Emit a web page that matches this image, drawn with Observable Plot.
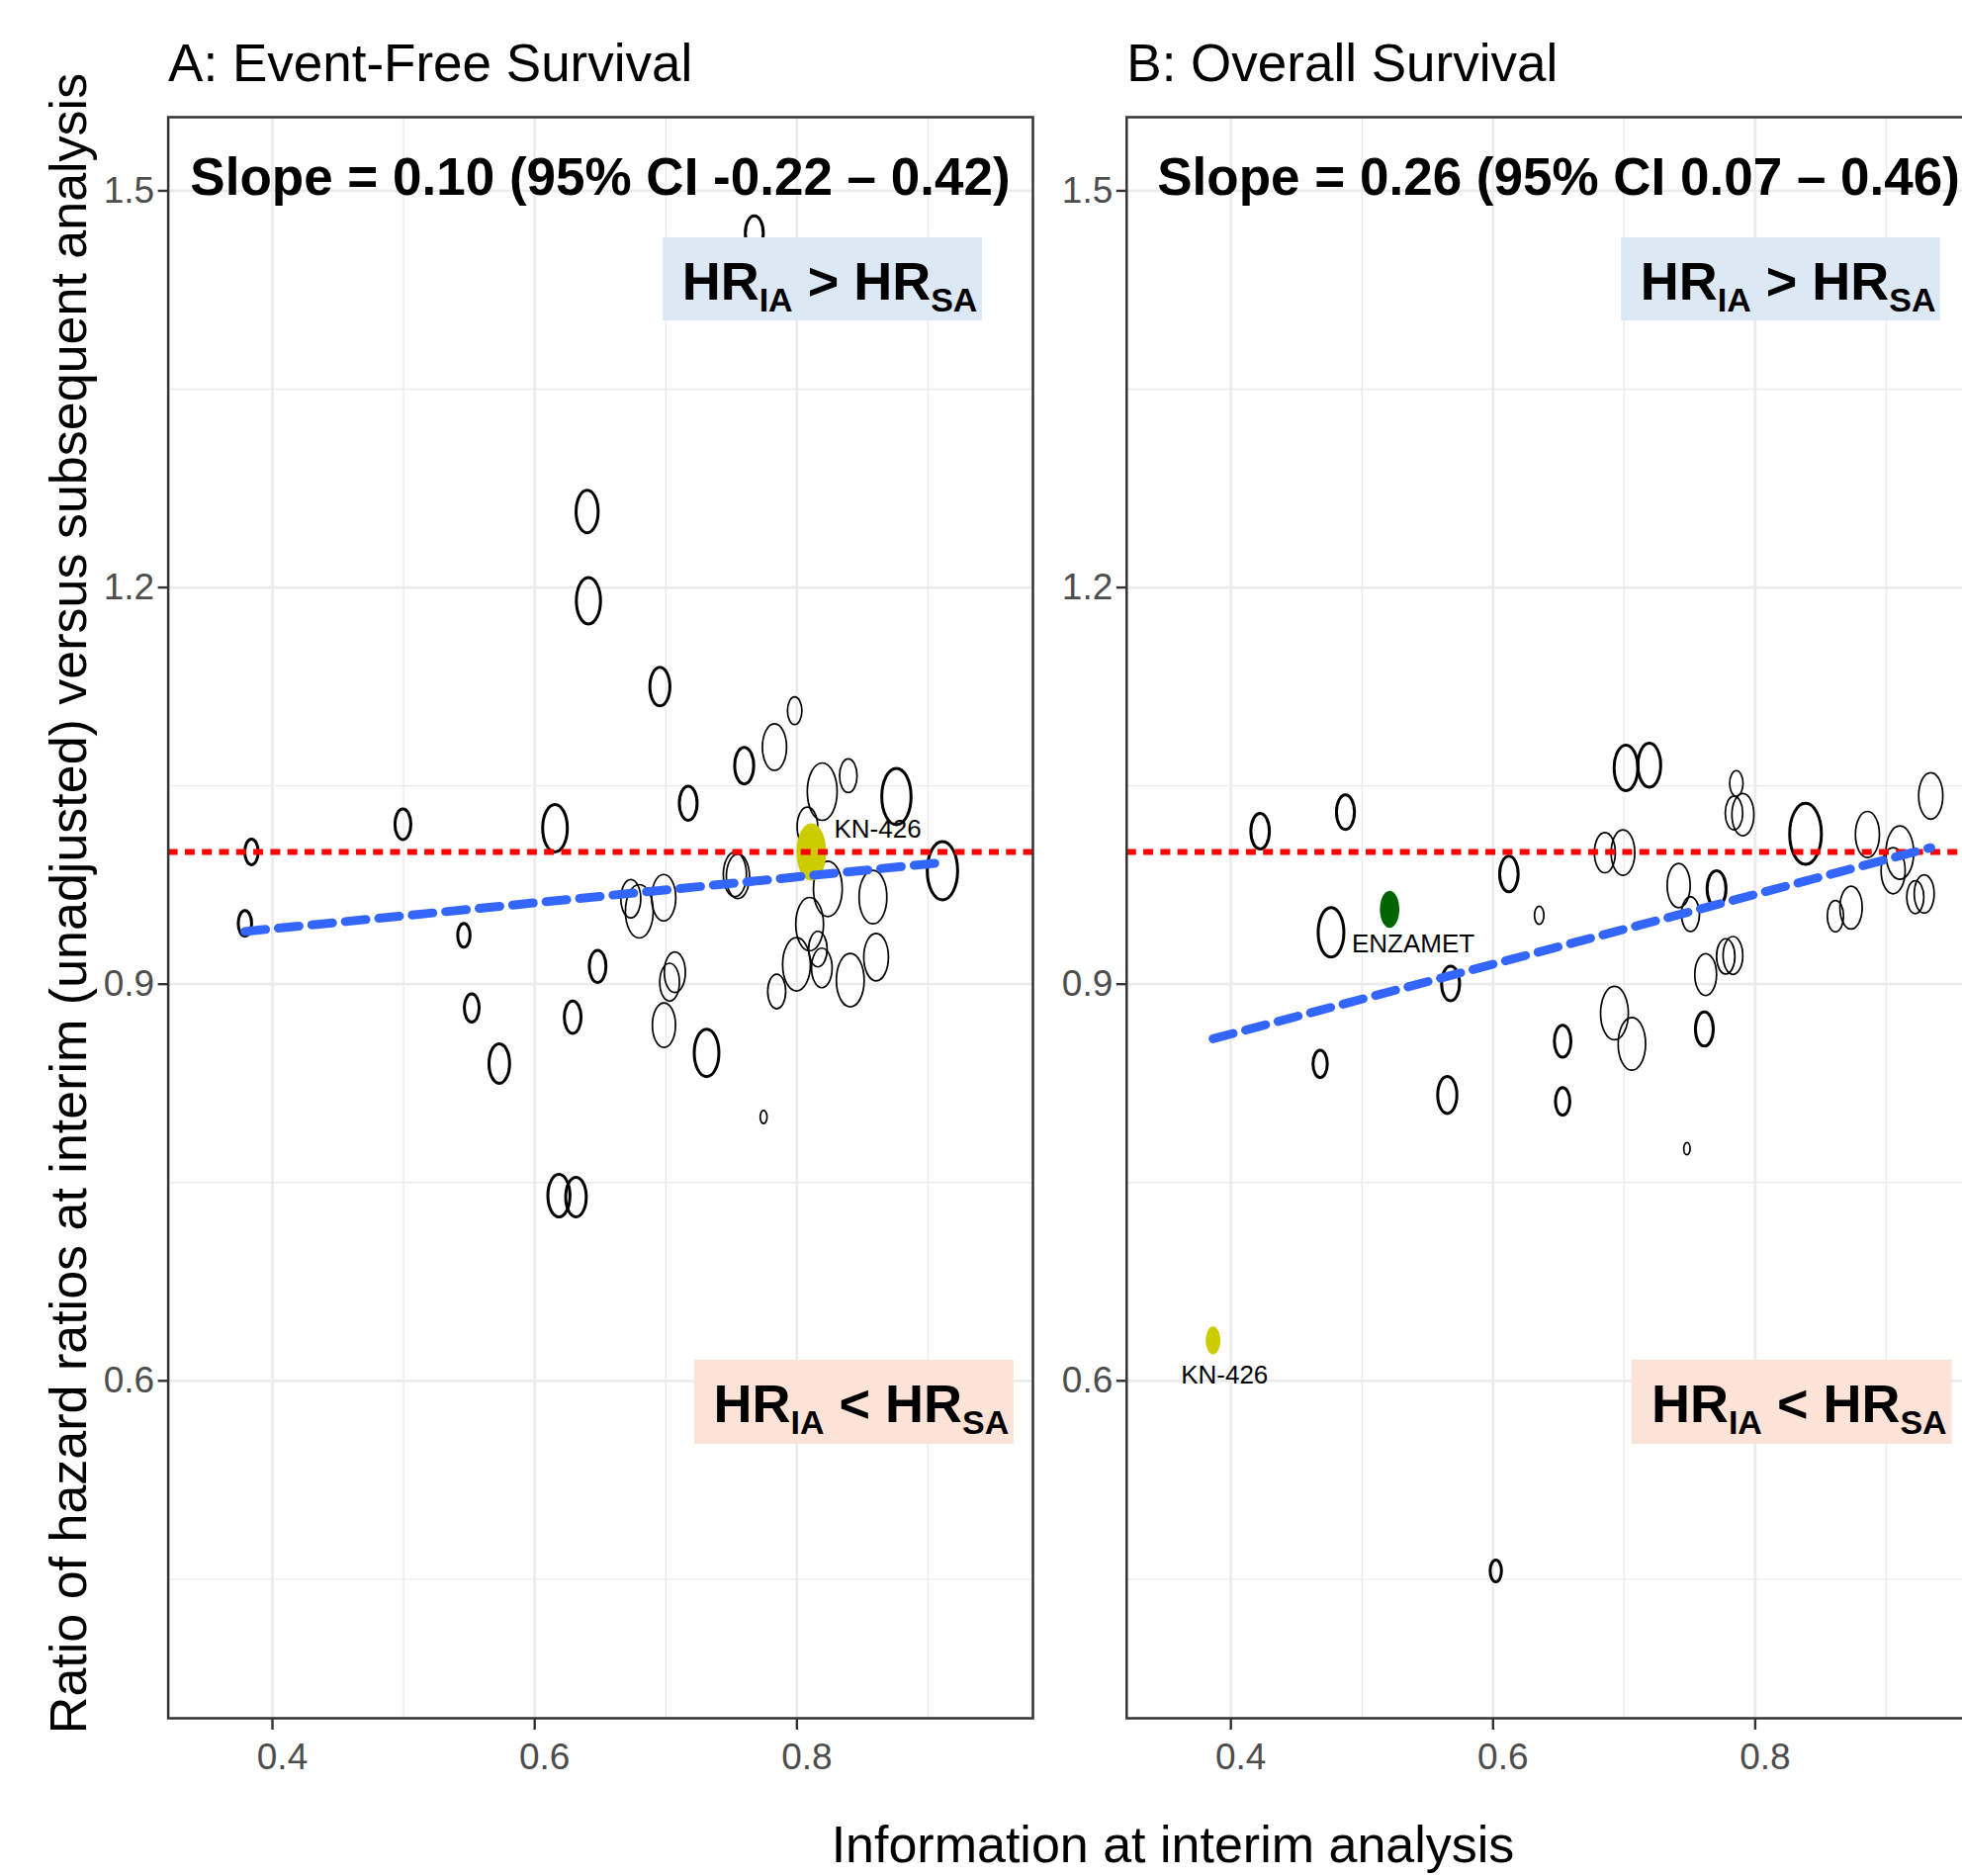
<!DOCTYPE html>
<html>
<head>
<meta charset="utf-8">
<script src="https://cdn.jsdelivr.net/npm/d3@7"></script>
<script src="https://cdn.jsdelivr.net/npm/@observablehq/plot@0.6"></script>
<style>
  html, body { margin: 0; padding: 0; background: white; overflow: hidden; }
  #wrap { position: relative; width: 1984px; height: 1897px; overflow: hidden; background: white;
          font-family: "Liberation Sans", Arial, sans-serif; }
  .panel { position: absolute; top: 0; }
  #xlab { position: absolute; left: 0; width: 2372px; top: 1839px; text-align: center;
          font-size: 52px; line-height: 52px; color: black; }
</style>
</head>
<body>
<div id="wrap">
  <div class="panel" id="pA" style="left:0px"></div>
  <div class="panel" id="pB" style="left:1050px"></div>
  <div id="xlab">Information at interim analysis</div>
</div>
<script>
// ---------- Panel A: Event-Free Survival ----------
const efsInfo = [0.384, 0.379, 0.4995, 0.546, 0.552, 0.573, 0.6155, 0.640, 0.641, 0.6185, 0.6315, 0.629, 0.648,
  0.6733, 0.6798, 0.6984, 0.6955, 0.6986, 0.7069, 0.7029, 0.7171, 0.7311, 0.7527, 0.7550, 0.7598, 0.7675,
  0.7983, 0.7746, 0.7829, 0.7846, 0.7997, 0.808, 0.8097, 0.811, 0.816, 0.819, 0.8193, 0.8236, 0.8392, 0.8407,
  0.858, 0.8604, 0.8759, 0.911];
const efsRatio = [1.000, 0.946, 1.021, 0.937, 0.882, 0.840, 1.018, 1.2575, 1.190, 0.740, 0.739, 0.875, 0.9135,
  0.9646, 0.9551, 0.9654, 1.125, 0.869, 0.909, 0.9015, 1.0369, 0.848, 0.983, 0.9815, 1.0653, 1.468,
  1.1068, 0.7995, 1.0793, 0.8945, 0.915, 1.019, 0.9454, 1.000, 0.9265, 0.9123, 1.0456, 0.9721, 1.0576, 0.903,
  0.9658, 0.9205, 1.0419, 0.9858];
const efsEvents = [169, 169, 240, 144, 206, 400, 576, 462, 552, 462, 400, 267, 264,
  374, 729, 552, 380, 506, 420, 367, 298, 576, 506, 506, 342, 306,
  196, 44, 552, 306, 729, 400, 729, 841, 324, 400, 841, 784, 289, 729,
  729, 576, 812, 870];
const efsCohort = [2, 2, 2, 2, 2, 2, 2, 2, 2, 2, 2, 2, 2,
  1, 1, 1, 2, 1, 1, 1, 2, 2, 1, 1, 2, 2,
  1, 1, 1, 1, 1, 1, 1, 1, 1, 1, 1, 1, 1, 1,
  1, 1, 2, 2];
const efsTrial = efsInfo.map((_, i) => i === 33 ? "KN-426" : "");
const efsSlope = 0.098, efsIntercept = 0.9027;

// ---------- Panel B: Overall Survival ----------
const osInfo = [0.3864, 0.4223, 0.4681, 0.4764, 0.4874, 0.5211, 0.5651, 0.5676, 0.6021, 0.6121,
  0.6352, 0.6531, 0.6531, 0.6853, 0.6991, 0.6926, 0.7059, 0.7014, 0.7192, 0.7416,
  0.7479, 0.7506, 0.7612, 0.7622, 0.7705, 0.7775, 0.7830, 0.7856, 0.7838, 0.7906,
  0.8384, 0.8612, 0.8731, 0.8856, 0.9052, 0.9103, 0.9221, 0.9289, 0.9339];
const osRatio = [0.6305, 1.0157, 0.8397, 0.9392, 1.0301, 0.9566, 0.8162, 0.9005, 0.4562, 0.9833,
  0.9521, 0.8569, 0.8113, 0.9995, 0.9995, 0.8781, 0.8549, 1.0636, 1.0656, 0.9746,
  0.7756, 0.9529, 0.8661, 0.9073, 0.9721, 0.921, 0.9217, 1.0518, 1.0294, 1.0282,
  1.0137, 0.9514, 0.9579, 1.0132, 0.9858, 0.9995, 0.9658, 0.9683, 1.0424];
const osEvents = [200, 324, 192, 625, 306, 355, 348, 306, 121, 324,
  84, 261, 196, 414, 529, 729, 710, 529, 491, 500,
  38, 306, 301, 447, 337, 319, 367, 169, 289, 456,
  952, 251, 469, 545, 545, 729, 277, 374, 552];
const osCohort = [1, 2, 2, 2, 2, 1, 2, 2, 2, 2,
  1, 2, 2, 1, 1, 1, 1, 2, 2, 1,
  1, 1, 2, 1, 2, 1, 1, 1, 1, 1,
  2, 1, 1, 1, 1, 1, 1, 1, 1];
const osTrial = osInfo.map((_, i) => i === 0 ? "KN-426" : i === 5 ? "ENZAMET" : "");
const osSlope = 0.264, osIntercept = 0.7567;

// ---------- Text & axes ----------
const titles = ["A: Event-Free Survival", "B: Overall Survival"];
const slopeTexts = ["Slope = 0.10 (95% CI -0.22 \u2013 0.42)", "Slope = 0.26 (95% CI 0.07 \u2013 0.46)"];
const yTitle = "Ratio of hazard ratios at interim (unadjusted) versus subsequent analysis";
const upperLabel = "HR_{IA} > HR_{SA}";
const lowerLabel = "HR_{IA} < HR_{SA}";
const xMajor = [0.4, 0.6, 0.8], xMinor = [0.5, 0.7, 0.9];
const yMajor = [0.6, 0.9, 1.2, 1.5], yMinor = [0.45, 0.75, 1.05, 1.35];
const trialNames = ["KN-426", "ENZAMET"];
const trialColors = ["#cccc00", "#006400"];

// annotation boxes (data units)
const upperBox = {x1: 0.698, x2: 0.9415, y1: 1.4016, y2: 1.4645};
const lowerBoxes = [{x1: 0.722, x2: 0.9656, y1: 0.552, y2: 0.6156}, {x1: 0.706, x2: 0.9504, y1: 0.552, y2: 0.6156}];

// ellipse symbol (points are drawn as tall ellipses)
const ellipse = {
  draw(ctx, size) {
    const ry = Math.sqrt(size / Math.PI), rx = ry * 0.52, k = 0.5523;
    ctx.moveTo(rx, 0);
    ctx.bezierCurveTo(rx, k * ry, k * rx, ry, 0, ry);
    ctx.bezierCurveTo(-k * rx, ry, -rx, k * ry, -rx, 0);
    ctx.bezierCurveTo(-rx, -k * ry, -k * rx, -ry, 0, -ry);
    ctx.bezierCurveTo(k * rx, -ry, rx, -k * ry, rx, 0);
    ctx.closePath();
  }
};

const labelOffsets = {
  "A:KN-426": {dx: 23, dy: -22.6, textAnchor: "start"},
  "B:KN-426": {dx: 11.6, dy: 34.7, textAnchor: "middle"},
  "B:ENZAMET": {dx: -38.3, dy: 35.4, textAnchor: "start"}
};

function subscripts(svg) {
  svg.querySelectorAll("text").forEach(t => {
    const s = t.textContent;
    if (!s.includes("_{")) return;
    while (t.firstChild) t.removeChild(t.firstChild);
    const parts = s.split(/_\{([^}]*)\}/);
    let down = false;
    parts.forEach((p, i) => {
      if (!p) return;
      const ts = document.createElementNS("http://www.w3.org/2000/svg", "tspan");
      ts.textContent = p;
      if (i % 2) { ts.setAttribute("font-size", "34"); ts.setAttribute("dy", "12"); down = true; }
      else if (down) { ts.setAttribute("dy", "-12"); down = false; }
      t.appendChild(ts);
    });
  });
}

function panel(key, info, ratio, events, cohort, trial, slope, intercept, idx, opts) {
  const rows = info.map((x, i) => ({info: x, ratio: ratio[i], events: events[i], cohort: cohort[i], trial: trial[i]}));
  const fit = d3.extent(info).map(x => ({info: x, ratio: intercept + slope * x}));
  const named = rows.filter(d => d.trial);
  const lowerBox = lowerBoxes[idx];
  const marks = [
    Plot.gridX({ticks: xMinor, stroke: "#ebebeb", strokeOpacity: 1, strokeWidth: 1.4}),
    Plot.gridY({ticks: yMinor, stroke: "#ebebeb", strokeOpacity: 1, strokeWidth: 1.4}),
    Plot.gridX({ticks: xMajor, stroke: "#ebebeb", strokeOpacity: 1, strokeWidth: 2.7}),
    Plot.gridY({ticks: yMajor, stroke: "#ebebeb", strokeOpacity: 1, strokeWidth: 2.7}),
    Plot.dot(rows.filter(d => !d.trial), {x: "info", y: "ratio", r: "events", symbol: ellipse,
      stroke: "black", fill: "none", strokeWidth: d => d.cohort === 2 ? 3 : 1.7}),
    Plot.dot(named, {x: "info", y: "ratio", r: "events", symbol: ellipse, fill: "trial", stroke: "none"}),
    Plot.ruleY([1], {stroke: "#ff0000", strokeWidth: 6, strokeDasharray: "10,7.3"}),
    Plot.line(fit, {x: "info", y: "ratio", stroke: "#3366ff", strokeWidth: 9, strokeDasharray: "21,13"}),
    ...named.map(d => Plot.text([d], {x: "info", y: "ratio", text: "trial", fontSize: 26, fill: "black",
      ...labelOffsets[key + ":" + d.trial]})),
    Plot.rect([upperBox], {x1: "x1", x2: "x2", y1: "y1", y2: "y2", fill: "#dce9f5"}),
    Plot.rect([lowerBox], {x1: "x1", x2: "x2", y1: "y1", y2: "y2", fill: "#fce3d7"}),
    Plot.text([upperLabel], {x: (upperBox.x1 + upperBox.x2) / 2, y: (upperBox.y1 + upperBox.y2) / 2,
      text: d => d, fontSize: 54, fontWeight: "bold", fill: "black", dy: 3, dx: 7}),
    Plot.text([lowerLabel], {x: (lowerBox.x1 + lowerBox.x2) / 2, y: (lowerBox.y1 + lowerBox.y2) / 2,
      text: d => d, fontSize: 54, fontWeight: "bold", fill: "black", dy: 3, dx: 7}),
    Plot.text([slopeTexts[idx]], {x: 0.65, y: 1.51, text: d => d, fontSize: 53, fontWeight: "bold", fill: "black"}),
    Plot.frame({stroke: "#333333", strokeWidth: 2.5}),
    Plot.axisX({ticks: xMajor, tickFormat: d3.format(".1f"), tickSize: 12, tickPadding: 13,
      fill: "#4d4d4d", stroke: "#333333", strokeWidth: 2.4, fontSize: 37, label: null}),
    Plot.axisY({ticks: yMajor, tickFormat: d3.format(".1f"), tickSize: 10, tickPadding: 4,
      fill: "#4d4d4d", stroke: "#333333", strokeWidth: 2.4, fontSize: 37, label: null}),
    Plot.text([titles[idx]], {frameAnchor: "top-left", text: d => d, textAnchor: "start", lineAnchor: "middle",
      fontSize: 53, fill: "black", dy: -53.3})
  ];
  if (idx === 0) {
    marks.push(Plot.text([yTitle], {frameAnchor: "left", text: d => d, rotate: -90, textAnchor: "middle",
      lineAnchor: "middle", fontSize: 52, fill: "black", dx: -99.5, dy: -14.5}));
  }
  const svg = Plot.plot({
    width: opts.width, height: 1897,
    marginLeft: opts.marginLeft, marginRight: 6, marginTop: 118, marginBottom: 160,
    x: {domain: [0.3205, 0.98]},
    y: {domain: [0.3448, 1.5557]},
    r: {type: "sqrt", domain: [0, 900], range: [0, 30]},
    color: {domain: trialNames, range: trialColors},
    style: {fontFamily: "'Liberation Sans', Arial, sans-serif", fontSize: "37px", background: "white",
      overflow: "visible", maxWidth: "none"},
    marks
  });
  // ggplot-style x tick labels sit slightly right of their ticks in the reference
  svg.querySelectorAll("g[aria-label='x-axis tick label'] text").forEach(t => t.setAttribute("dx", "10"));
  subscripts(svg);
  return svg;
}

document.getElementById("pA").appendChild(
  panel("A", efsInfo, efsRatio, efsEvents, efsCohort, efsTrial, efsSlope, efsIntercept, 0, {width: 1050, marginLeft: 169.6}));
document.getElementById("pB").appendChild(
  panel("B", osInfo, osRatio, osEvents, osCohort, osTrial, osSlope, osIntercept, 1, {width: 969, marginLeft: 88.8}));
</script>
</body>
</html>
